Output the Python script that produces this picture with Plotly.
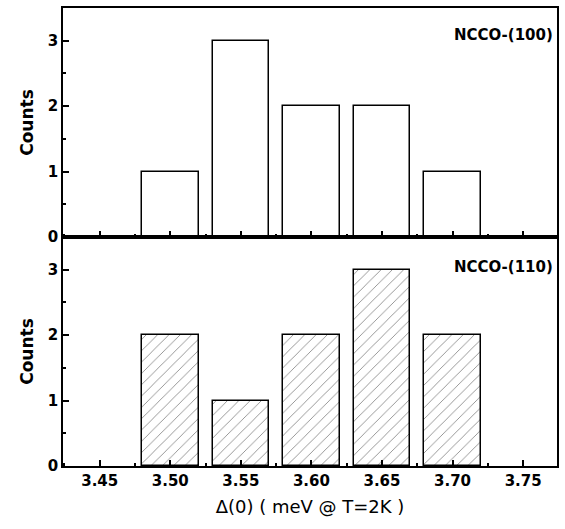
import plotly.graph_objects as go
from plotly.subplots import make_subplots

bins = [3.50, 3.55, 3.60, 3.65, 3.70]
counts_100 = [1, 3, 2, 2, 1]
counts_110 = [2, 1, 2, 3, 2]
labels = ["NCCO-(100)", "NCCO-(110)"]
x_ticks = [3.45, 3.50, 3.55, 3.60, 3.65, 3.70, 3.75]
x_tick_text = ["3.45", "3.50", "3.55", "3.60", "3.65", "3.70", "3.75"]
y_ticks = [0, 1, 2, 3]

FONT = "DejaVu Sans, Liberation Sans, sans-serif"

fig = make_subplots(rows=2, cols=1, shared_xaxes=False, vertical_spacing=0)

fig.add_trace(go.Bar(x=bins, y=counts_100, width=0.04,
                     marker=dict(color="white", line=dict(color="black", width=1.5))),
              row=1, col=1)
fig.add_trace(go.Bar(x=bins, y=counts_110, width=0.04,
                     marker=dict(color="white", line=dict(color="black", width=1.5),
                                 pattern=dict(shape="/", fgcolor="black", bgcolor="white",
                                              size=8, solidity=0.1))),
              row=2, col=1)

xcommon = dict(range=[3.424, 3.774], tickvals=x_ticks, ticktext=x_tick_text,
               ticks="inside", ticklen=6, tickwidth=1.5, tickcolor="black",
               showline=True, linecolor="black", linewidth=1.5, mirror=True,
               showgrid=False, zeroline=False,
               minor=dict(dtick=0.025, tick0=3.425, ticks="inside", ticklen=3,
                          tickwidth=1.5, tickcolor="black"),
               tickfont=dict(family=FONT, size=15, color="black", weight="bold"))
ycommon = dict(range=[0, 3.5], tickvals=y_ticks,
               ticks="inside", ticklen=6, tickwidth=1.5, tickcolor="black",
               showline=True, linecolor="black", linewidth=1.5, mirror=True,
               showgrid=False, zeroline=False,
               minor=dict(dtick=0.5, tick0=0, ticks="inside", ticklen=3,
                          tickwidth=1.5, tickcolor="black"),
               tickfont=dict(family=FONT, size=15, color="black", weight="bold"),
               title=dict(text="Counts", standoff=10,
                          font=dict(family=FONT, size=17, color="black", weight="bold")))

fig.update_xaxes(**xcommon)
fig.update_xaxes(showticklabels=False, row=1, col=1)
fig.update_xaxes(title=dict(text="\u0394(0) ( meV @ T=2K )", standoff=12,
                            font=dict(family=FONT, size=18, color="black")), row=2, col=1)
fig.update_yaxes(**ycommon)

fig.add_annotation(text=labels[0], xref="x domain", yref="y domain", x=0.995, y=0.88,
                   xanchor="right", yanchor="middle", showarrow=False,
                   font=dict(family=FONT, size=15, color="black", weight="bold"))
fig.add_annotation(text=labels[1], xref="x2 domain", yref="y2 domain", x=0.995, y=0.87,
                   xanchor="right", yanchor="middle", showarrow=False,
                   font=dict(family=FONT, size=15, color="black", weight="bold"))

fig.update_layout(width=565, height=529, margin=dict(l=63, r=6, t=6, b=63),
                  paper_bgcolor="white", plot_bgcolor="white", showlegend=False,
                  bargap=0)

fig.write_html("out.html")
